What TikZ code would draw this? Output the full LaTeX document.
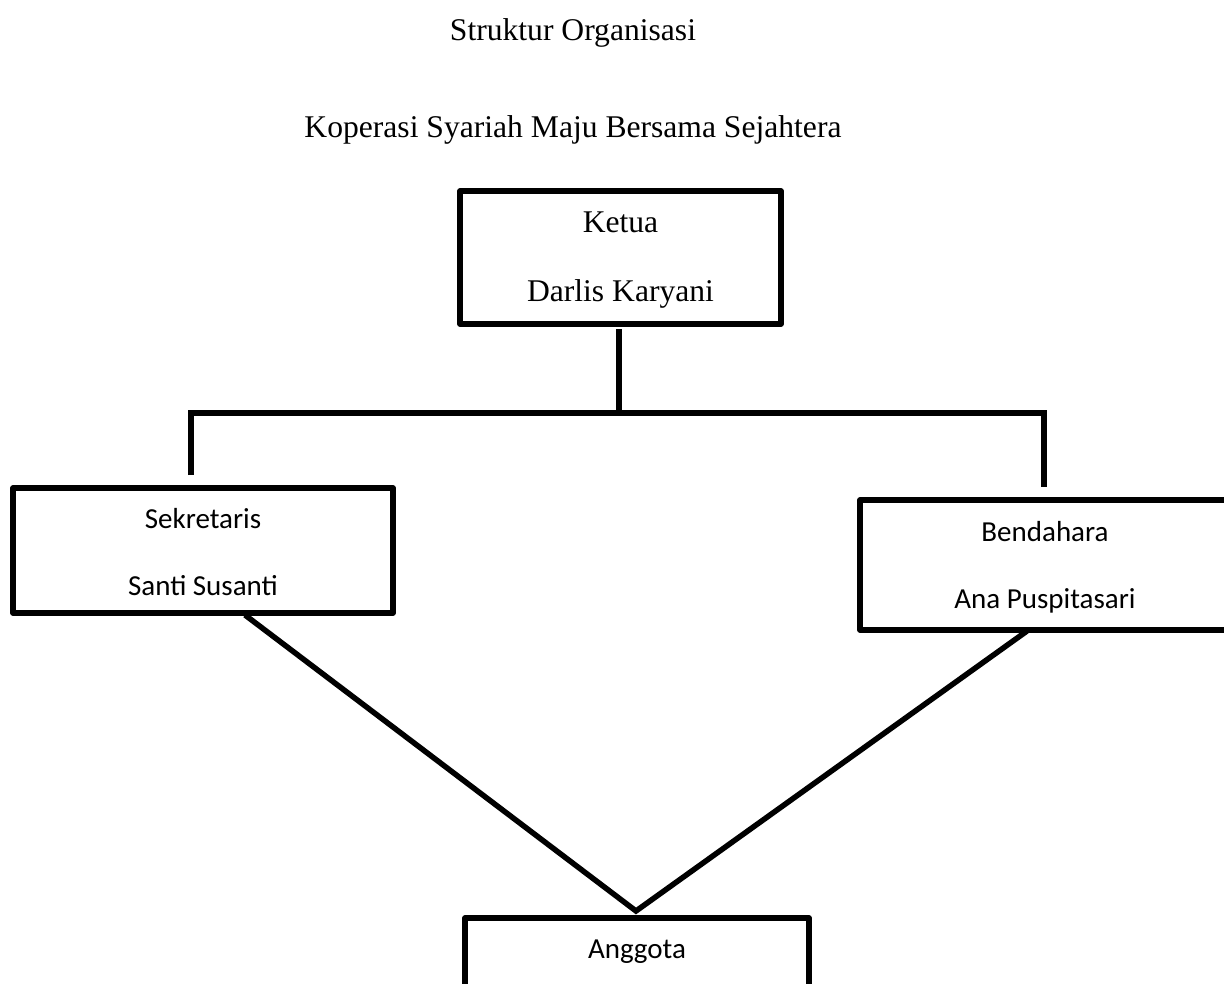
\documentclass[tikz,border=0pt]{standalone}
\usepackage{fontspec}
\setmainfont{Liberation Serif}
\newfontfamily\calibrifont{Carlito}
\begin{document}
\begin{tikzpicture}[x=1pt,y=-1pt,
  box/.style={draw=black, line width=5.5pt, line join=round, rectangle, inner sep=0pt, outer sep=0pt},
  conn/.style={draw=black, line width=5.5pt},
  serif/.style={font=\fontsize{31.6}{38}\selectfont, anchor=base, inner sep=0pt},
  sans/.style={font=\calibrifont\fontsize{29}{35}\selectfont, anchor=base, inner sep=0pt}]
\useasboundingbox[fill=white] (0,0) rectangle (1224,984);

% titles
\node[serif] (title1) at (573,41) {Struktur Organisasi};
\node[serif] (title2) at (573,138) {Koperasi Syariah Maju Bersama Sejahtera};

% boxes
\node[box, minimum width=321pt, minimum height=133pt] (ketua) at (620.5,257.5) {};
\node[box, minimum width=380pt, minimum height=125pt] (sek) at (203,550.5) {};
\node[box, minimum width=370pt, minimum height=130pt] (bend) at (1045,565) {};
\node[box, minimum width=344pt, minimum height=128pt] (angg) at (637,982) {};

% texts
\node[serif] (t-ketua) at (620.5,233) {Ketua};
\node[serif] (t-darlis) at (620.5,302) {Darlis Karyani};
\node[sans] (t-sek) at (203,528) {Sekretaris};
\node[sans] (t-santi) at (203,595) {Santi Susanti};
\node[sans] (t-bend) at (1045,541) {Bendahara};
\node[sans] (t-ana) at (1045,608) {Ana Puspitasari};
\node[sans] (t-angg) at (637,958) {Anggota};

% connector coordinates
\coordinate (kb) at (619,329);
\coordinate (hm) at (619,413);
\coordinate (hl) at (191,413);
\coordinate (hr) at (1044,413);
\coordinate (st) at (191,475);
\coordinate (bt) at (1044,487);
\coordinate (sd) at (245,615);
\coordinate (bd) at (1027,631);
\coordinate (apex) at (636,911);

\draw[conn] (kb) -- (hm);
\draw[conn] (st) -- (hl) -- (hr) -- (bt);
\draw[conn] (sd) -- (apex) -- (bd);
\end{tikzpicture}
\end{document}
